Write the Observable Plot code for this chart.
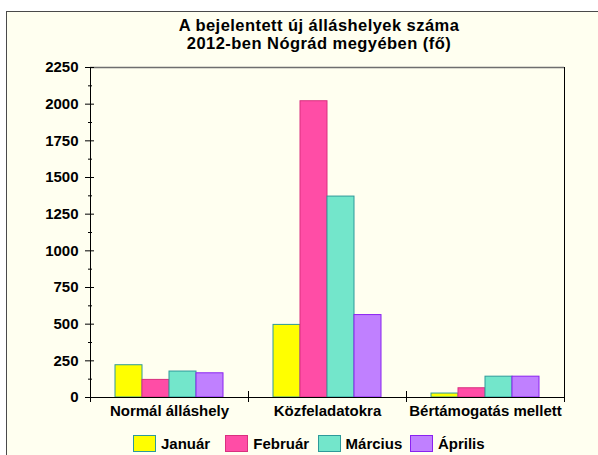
<!DOCTYPE html>
<html>
<head>
<meta charset="utf-8">
<script src="https://cdn.jsdelivr.net/npm/d3@7"></script>
<script src="https://cdn.jsdelivr.net/npm/@observablehq/plot@0.6"></script>
<style>
  html, body { margin: 0; padding: 0; background: #fff; }
  #wrap { position: relative; width: 598px; height: 455px; overflow: hidden; background: #fff;
          font-family: "Liberation Sans", Arial, sans-serif; font-weight: bold; color: #000; }
  #frame { position: absolute; left: 6px; top: 11px; width: 640px; height: 500px;
           border-left: 1px solid #4a4a4a; border-top: 1px solid #4a4a4a; background: #fffff0; }
  #title { position: absolute; left: 69px; width: 500px; top: 16px; text-align: center;
           font-size: 16.5px; line-height: 18px; letter-spacing: 0.45px; }
  #chart { position: absolute; left: 0; top: 56px; }
  #legend { position: absolute; left: 133px; top: 435px; display: flex; font-size: 15px; }
  .item { width: 92.3px; display: flex; align-items: center; }
  .sw { width: 21px; height: 15px; margin-right: 5px; }
</style>
</head>
<body>
<div id="wrap">
  <div id="frame"></div>
  <div id="title">A bejelentett új álláshelyek száma<br>2012-ben Nógrád megyében (fő)</div>
  <div id="chart"></div>
  <div id="legend"></div>
</div>
<script>
const categories = ["Normál álláshely", "Közfeladatokra", "Bértámogatás mellett"];
const months = ["Január", "Február", "Március", "Április"];
const januar  = [220, 495, 27];
const februar = [120, 2020, 63];
const marcius = [177, 1370, 142];
const aprilis = [165, 562, 142];
const yTicks = [0, 250, 500, 750, 1000, 1250, 1500, 1750, 2000, 2250];
const yMinorTicks = [125, 375, 625, 875, 1125, 1375, 1625, 1875, 2125];

const fills = ["#ffff00", "#ff4da6", "#73e6cb", "#c080ff"];
const strokes = ["#2e9a9a", "#d9307f", "#2e9a9a", "#8a22f0"];

const series = [januar, februar, marcius, aprilis];
const data = categories.flatMap((c, i) =>
  months.map((m, j) => ({category: c, month: m, value: series[j][i]})));

const chart = Plot.plot({
  width: 598,
  height: 369,
  marginLeft: 89,
  marginRight: 34,
  marginTop: 11,
  marginBottom: 28,
  style: {background: "transparent", fontFamily: "'Liberation Sans', Arial, sans-serif",
          fontSize: "15px", fontWeight: "bold", color: "#000", overflow: "visible"},
  fx: {domain: categories, padding: 0, axis: "bottom", label: null, tickSize: 0, tickPadding: 8},
  x: {domain: months, paddingInner: 0, paddingOuter: 0.83, axis: null},
  y: {domain: [0, 2250], axis: null, label: null},
  color: {type: "identity"},
  marks: [
    Plot.barY(data, {
      fx: "category", x: "month", y: "value",
      fill: d => fills[months.indexOf(d.month)],
      stroke: d => strokes[months.indexOf(d.month)],
      strokeWidth: 1
    }),
    Plot.ruleY([2250], {stroke: "#6e6e6e", strokeWidth: 1.5}),
    Plot.ruleY([0], {stroke: "#000"}),
    Plot.frame({anchor: "left", insetTop: 324, insetBottom: -4, stroke: "#000"}),
    Plot.frame({anchor: "left", facet: "super", insetBottom: -4, stroke: "#000"}),
    Plot.frame({anchor: "right", facet: "super", insetBottom: -4, stroke: "#000"}),
    Plot.axisY(yTicks, {tickSize: 9, dx: 4, tickFormat: () => "", label: null}),
    Plot.axisY(yMinorTicks, {tickSize: 4, dx: 2, tickFormat: () => "", label: null}),
    Plot.axisY(yTicks, {tickSize: 0, tickPadding: 12, tickFormat: d => String(d), label: null})
  ]
});
document.getElementById("chart").appendChild(chart);

const legend = document.getElementById("legend");
months.forEach((m, i) => {
  const item = document.createElement("div");
  item.className = "item";
  const sw = document.createElement("div");
  sw.className = "sw";
  sw.style.background = fills[i];
  sw.style.border = "1px solid " + strokes[i];
  const label = document.createElement("span");
  label.textContent = m;
  item.appendChild(sw);
  item.appendChild(label);
  legend.appendChild(item);
});
</script>
</body>
</html>
